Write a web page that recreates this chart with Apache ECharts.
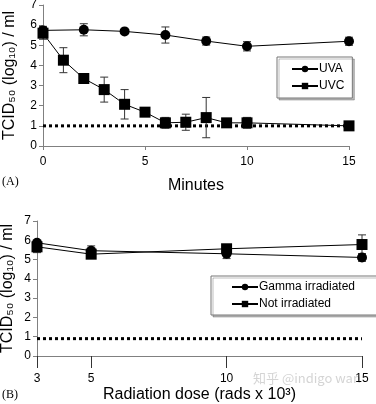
<!DOCTYPE html>
<html>
<head>
<meta charset="utf-8">
<script src="https://cdn.jsdelivr.net/npm/echarts@6/dist/echarts.min.js"></script>
<style>
  html, body { margin: 0; padding: 0; background: #fff; }
  #chart { width: 376px; height: 404px; }
</style>
</head>
<body>
<div id="chart"></div>
<script>
// panel A: UV exposure
const minutesUVA = [0, 2, 4, 6, 8, 10, 15];
const uvaValues = [5.74, 5.77, 5.69, 5.51, 5.21, 4.95, 5.2];
const uvaErrors = [0.2, 0.3, 0, 0.4, 0.2, 0.23, 0.2];
const minutesUVC = [0, 1, 2, 3, 4, 5, 6, 7, 8, 9, 10, 15];
const uvcValues = [5.6, 4.26, 3.35, 2.8, 2.07, 1.68, 1.15, 1.18, 1.41, 1.15, 1.15, 1.0];
const uvcErrors = [0.3, 0.62, 0, 0.62, 0.73, 0, 0.27, 0.4, 1.0, 0.2, 0.27, 0];
const limitA = 1.0;

// panel B: gamma irradiation
const doses = [3, 5, 10, 15];
const gammaValues = [5.87, 5.46, 5.3, 5.11];
const gammaErrors = [0.1, 0.25, 0.25, 0.2];
const notIrrValues = [5.66, 5.28, 5.56, 5.78];
const notIrrErrors = [0.3, 0.15, 0.1, 0.5];
const limitB = 0.9;
const doseTicks = [3, 5, 10, 15];

const yTicks = [0, 7];

const zip = (xs, ys) => xs.map((x, i) => [x, ys[i]]);
const errData = (xs, ys, es) => xs.map((x, i) => [x, ys[i] - es[i], ys[i] + es[i]]).filter((d, i) => es[i] > 0);

function errorBars(xi, data) {
    return {
        type: 'custom',
        xAxisIndex: xi, yAxisIndex: xi,
        z: 1,
        data: data,
        renderItem: function (params, api) {
            const x = api.value(0);
            const lo = api.coord([x, api.value(1)]);
            const hi = api.coord([x, api.value(2)]);
            const w = 4;
            const st = { stroke: '#333', lineWidth: 1 };
            return {
                type: 'group',
                children: [
                    { type: 'line', shape: { x1: lo[0], y1: lo[1], x2: hi[0], y2: hi[1] }, style: st },
                    { type: 'line', shape: { x1: lo[0] - w, y1: lo[1], x2: lo[0] + w, y2: lo[1] }, style: st },
                    { type: 'line', shape: { x1: hi[0] - w, y1: hi[1], x2: hi[0] + w, y2: hi[1] }, style: st }
                ]
            };
        }
    };
}

const font = 'Liberation Sans, Arial, sans-serif';
const axisCol = '#808080';

const yAxisBase = {
    type: 'value', min: yTicks[0], max: yTicks[1], interval: 1,
    axisLine: { show: true, lineStyle: { color: axisCol } },
    axisTick: { show: true, length: 4, lineStyle: { color: axisCol } },
    splitLine: { show: false },
    axisLabel: { color: '#000', fontSize: 12, fontFamily: font, margin: 6 },
    name: 'TCID₅₀ (log₁₀) / ml',
    nameLocation: 'middle',
    nameRotate: 90,
    nameMoveOverlap: false,
    nameTextStyle: { color: '#000', fontSize: 16, fontFamily: font }
};

const legendBase = {
    orient: 'vertical',
    itemGap: 5, itemWidth: 26, itemHeight: 8,
    borderColor: '#777', borderWidth: 1,
    shadowColor: 'rgba(0,0,0,0.25)', shadowOffsetX: 2, shadowOffsetY: 2,
    backgroundColor: '#fff',
    textStyle: { color: '#000', fontSize: 12, fontFamily: font, padding: [0, 0, 0, -4] }
};

let myChart = echarts.init(document.getElementById('chart'));
const option = {
    animation: false,
    backgroundColor: '#fff',
    textStyle: { fontFamily: font },
    grid: [
        { left: 43, right: 27, top: 5, height: 141, outerBoundsMode: 'none' },
        { left: 37, right: 14, top: 221, height: 135, outerBoundsMode: 'none' }
    ],
    xAxis: [
        {
            gridIndex: 0, type: 'value', min: 0, max: 15, interval: 5,
            axisLine: { lineStyle: { color: axisCol } },
            axisTick: { length: 4, lineStyle: { color: axisCol } },
            splitLine: { show: false },
            axisLabel: { color: '#000', fontSize: 12, fontFamily: font, margin: 10 },
            name: 'Minutes', nameLocation: 'middle', nameGap: 32, nameMoveOverlap: false,
            nameTextStyle: { color: '#000', fontSize: 16, fontFamily: font }
        },
        {
            gridIndex: 1, type: 'value', min: 3, max: 15,
            axisLine: { lineStyle: { color: axisCol } },
            axisTick: { length: 12, customValues: doseTicks, lineStyle: { color: '#333' } },
            splitLine: { show: false },
            axisLabel: { color: '#000', fontSize: 12, fontFamily: font, margin: 17, customValues: doseTicks },
            name: 'Radiation dose (rads x 10³)', nameLocation: 'middle', nameGap: 31, nameMoveOverlap: false,
            nameTextStyle: { color: '#000', fontSize: 16, fontFamily: font }
        }
    ],
    yAxis: [
        Object.assign({ gridIndex: 0, nameGap: 25 }, yAxisBase),
        Object.assign({ gridIndex: 1, nameGap: 21 }, yAxisBase)
    ],
    legend: [
        Object.assign({
            data: ['UVA', 'UVC'],
            left: 277, top: 57,
            padding: [6, 8, 6, 14]
        }, legendBase),
        Object.assign({
            data: ['Gamma irradiated', 'Not irradiated'],
            left: 211, top: 276,
            padding: [5, 22, 5, 20]
        }, legendBase)
    ],
    series: [
        {
            name: 'limitA', type: 'line', xAxisIndex: 0, yAxisIndex: 0,
            data: [[0, limitA], [15, limitA]], symbol: 'none', z: 0,
            lineStyle: { color: '#000', width: 3, type: [3, 3] }
        },
        {
            name: 'limitB', type: 'line', xAxisIndex: 1, yAxisIndex: 1,
            data: [[3, limitB], [15, limitB]], symbol: 'none', z: 0,
            lineStyle: { color: '#000', width: 3, type: [3, 3] }
        },
        errorBars(0, errData(minutesUVA, uvaValues, uvaErrors)),
        errorBars(0, errData(minutesUVC, uvcValues, uvcErrors)),
        errorBars(1, errData(doses, gammaValues, gammaErrors)),
        errorBars(1, errData(doses, notIrrValues, notIrrErrors)),
        {
            name: 'UVA', type: 'line', xAxisIndex: 0, yAxisIndex: 0,
            data: zip(minutesUVA, uvaValues),
            symbol: 'circle', symbolSize: 10, z: 3,
            itemStyle: { color: '#000' }, lineStyle: { color: '#000', width: 1 }
        },
        {
            name: 'UVC', type: 'line', xAxisIndex: 0, yAxisIndex: 0,
            data: zip(minutesUVC, uvcValues),
            symbol: 'rect', symbolSize: 11, z: 3,
            itemStyle: { color: '#000' }, lineStyle: { color: '#000', width: 1 }
        },
        {
            name: 'Gamma irradiated', type: 'line', xAxisIndex: 1, yAxisIndex: 1,
            data: zip(doses, gammaValues),
            symbol: 'circle', symbolSize: 10, z: 3,
            itemStyle: { color: '#000' }, lineStyle: { color: '#000', width: 1 }
        },
        {
            name: 'Not irradiated', type: 'line', xAxisIndex: 1, yAxisIndex: 1,
            data: zip(doses, notIrrValues),
            symbol: 'rect', symbolSize: 11, z: 3,
            itemStyle: { color: '#000' }, lineStyle: { color: '#000', width: 1 }
        }
    ],
    graphic: [
        { type: 'text', left: 2, top: 176, style: { text: '(A)', fontFamily: 'Liberation Serif, serif', fontSize: 12, fill: '#000' } },
        { type: 'text', left: 2, top: 389, style: { text: '(B)', fontFamily: 'Liberation Serif, serif', fontSize: 12, fill: '#000' } },
        { type: 'text', left: 253, top: 372, z: 0, style: { text: '知乎 @indigo wan', fontFamily: 'Noto Sans CJK SC', fontSize: 13, fill: 'rgba(160,160,160,0.45)' } }
    ]
};
myChart.setOption(option);
</script>
</body>
</html>
